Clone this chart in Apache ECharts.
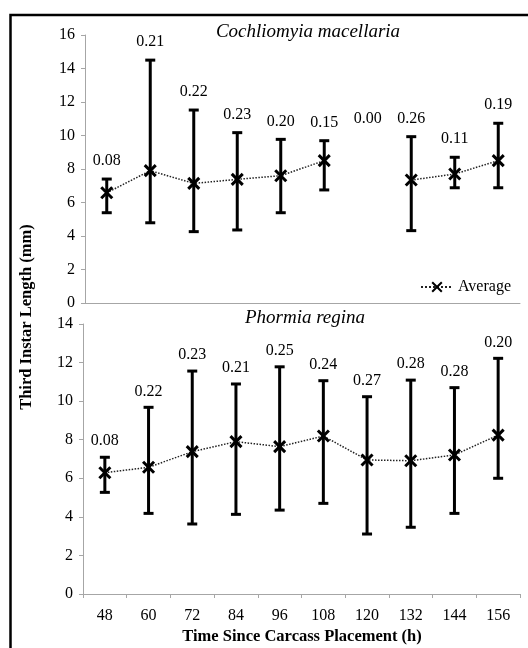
<!DOCTYPE html>
<html><head><meta charset="utf-8">
<script src="https://cdn.jsdelivr.net/npm/echarts@6/dist/echarts.min.js"></script>
<style>html,body{margin:0;padding:0;background:#fff}#c{width:528px;height:648px}</style>
</head><body><div id="c"></div>
<script>
var categories = ['48','60','72','84','96','108','120','132','144','156'];
// Cochliomyia macellaria
var cmAvg  = [6.58, 7.90, 7.14, 7.38, 7.60, 8.50, null, 7.34, 7.70, 8.50];
var cmHigh = [7.40, 14.50, 11.52, 10.17, 9.77, 9.69, null, 9.93, 8.70, 10.73];
var cmLow  = [5.39, 4.79, 4.26, 4.36, 5.39, 6.75, null, 4.32, 6.88, 6.88];
var cmCV   = ['0.08','0.21','0.22','0.23','0.20','0.15','0.00','0.26','0.11','0.19'];
// Phormia regina
var prAvg  = [6.29, 6.57, 7.38, 7.90, 7.64, 8.19, 6.95, 6.91, 7.21, 8.24];
var prHigh = [7.09, 9.68, 11.56, 10.89, 11.78, 11.06, 10.23, 11.09, 10.70, 12.22];
var prLow  = [5.27, 4.18, 3.63, 4.13, 4.35, 4.70, 3.11, 3.46, 4.18, 6.00];
var prCV   = ['0.08','0.22','0.23','0.21','0.25','0.24','0.27','0.28','0.28','0.20'];
var topTicks = [0,2,4,6,8,10,12,14,16];
var botTicks = [0,2,4,6,8,10,12,14];

var FONT = '"Liberation Serif", "Times New Roman", serif';
var chart = echarts.init(document.getElementById('c'), null, {renderer:'canvas'});

function errData(low, high){
  var d = [];
  for (var i=0;i<low.length;i++){ if (low[i]!=null && high[i]!=null) d.push([i, low[i], high[i]]); }
  return d;
}
function labelData(high){
  var d = [];
  for (var i=0;i<high.length;i++){
    var v = high[i];
    if (v==null){
      var a = i>0?high[i-1]:null, b = i<high.length-1?high[i+1]:null;
      v = Math.max(a==null?0:a, b==null?0:b);
    }
    d.push([i, v]);
  }
  return d;
}
function errRender(params, api){
  var x = api.value(0);
  var lo = api.coord([x, api.value(1)]);
  var hi = api.coord([x, api.value(2)]);
  var cap = 5;
  var st = {stroke:'#000', lineWidth:3};
  return {type:'group', children:[
    {type:'line', shape:{x1:lo[0],y1:lo[1],x2:hi[0],y2:hi[1]}, style:st},
    {type:'line', shape:{x1:lo[0]-cap,y1:lo[1],x2:lo[0]+cap,y2:lo[1]}, style:st},
    {type:'line', shape:{x1:hi[0]-cap,y1:hi[1],x2:hi[0]+cap,y2:hi[1]}, style:st}
  ]};
}
function labelRender(texts, off){
  return function(params, api){
    var p = api.coord([api.value(0), api.value(1)]);
    return {type:'text', x:p[0], y:p[1]-off, style:{text:texts[params.dataIndex], font:'16px '+FONT, fill:'#000', align:'center', verticalAlign:'middle'}};
  };
}
var axisLine = {show:true, lineStyle:{color:'#a6a6a6', width:1}};
var xSymbol = 'path://M0,0L10,10M10,0L0,10';

var option = {
  animation:false,
  backgroundColor:'#fff',
  grid:[
    {left:85, top:35, width:435, height:268},
    {left:83, top:324, width:437, height:270}
  ],
  xAxis:[
    {type:'category', gridIndex:0, data:categories, axisLine:axisLine, axisTick:{show:false}, axisLabel:{show:false}, splitLine:{show:false}},
    {type:'category', gridIndex:1, data:categories, axisLine:axisLine, axisTick:{show:true, length:4, lineStyle:{color:'#a6a6a6'}},
     axisLabel:{show:true, color:'#000', fontFamily:FONT, fontSize:16, margin:14}, splitLine:{show:false}}
  ],
  yAxis:[
    {type:'value', gridIndex:0, min:0, max:16, interval:2, axisLine:axisLine, axisTick:{show:true, length:4, lineStyle:{color:'#a6a6a6'}},
     axisLabel:{color:'#000', fontFamily:FONT, fontSize:16, margin:10}, splitLine:{show:false}},
    {type:'value', gridIndex:1, min:0, max:14, interval:2, axisLine:axisLine, axisTick:{show:true, length:4, lineStyle:{color:'#a6a6a6'}},
     axisLabel:{color:'#000', fontFamily:FONT, fontSize:16, margin:10}, splitLine:{show:false}}
  ],
  legend:{
    data:['Average'], right:12, top:274, itemWidth:32, itemHeight:12, itemGap:4,
    textStyle:{color:'#000', fontFamily:FONT, fontSize:16}
  },
  graphic:[
    {type:'rect', shape:{x:10.5, y:15, width:540, height:660}, style:{fill:'none', stroke:'#000', lineWidth:2.5}, z:100},
    {type:'text', x:308, y:32, style:{text:'Cochliomyia macellaria', font:'italic 19px '+FONT, fill:'#000', align:'center', verticalAlign:'middle'}},
    {type:'text', x:305, y:318, style:{text:'Phormia regina', font:'italic 19px '+FONT, fill:'#000', align:'center', verticalAlign:'middle'}},
    {type:'text', x:27, y:317, rotation:Math.PI/2, style:{text:'Third Instar Length (mm)', font:'bold 16.5px '+FONT, fill:'#000', align:'center', verticalAlign:'middle'}},
    {type:'text', x:302, y:637, style:{text:'Time Since Carcass Placement (h)', font:'bold 16.5px '+FONT, fill:'#000', align:'center', verticalAlign:'middle'}}
  ],
  series:[
    {type:'custom', xAxisIndex:0, yAxisIndex:0, data:errData(cmLow, cmHigh), renderItem:errRender, z:2},
    {type:'custom', xAxisIndex:1, yAxisIndex:1, data:errData(prLow, prHigh), renderItem:errRender, z:2},
    {type:'custom', xAxisIndex:0, yAxisIndex:0, data:labelData(cmHigh), renderItem:labelRender(cmCV, 18), z:3},
    {type:'custom', xAxisIndex:1, yAxisIndex:1, data:labelData(prHigh), renderItem:labelRender(prCV, 16), z:3},
    {name:'Average', type:'line', xAxisIndex:0, yAxisIndex:0, data:cmAvg, connectNulls:false,
     symbol:xSymbol, symbolSize:11, itemStyle:{color:'#000', borderColor:'#000', borderWidth:3},
     lineStyle:{color:'#222', width:1.5, type:'dotted'}, z:4},
    {name:'Average2', type:'line', xAxisIndex:1, yAxisIndex:1, data:prAvg,
     symbol:xSymbol, symbolSize:11, itemStyle:{color:'#000', borderColor:'#000', borderWidth:3},
     lineStyle:{color:'#222', width:1.5, type:'dotted'}, z:4}
  ]
};
chart.setOption(option);
</script></body></html>
